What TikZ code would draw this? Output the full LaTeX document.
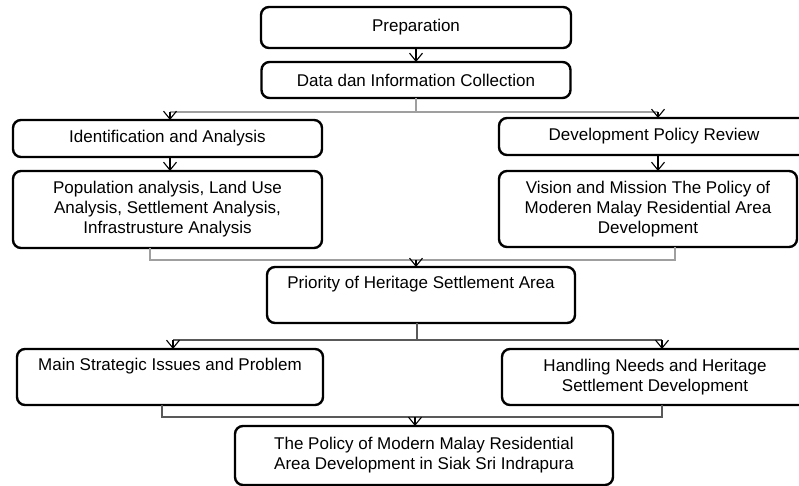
\documentclass[tikz,border=0pt]{standalone}
\usepackage{fontspec}
\setmainfont{Liberation Sans}
\usetikzlibrary{arrows.meta}
\begin{document}
\begin{tikzpicture}[x=1pt,y=-1pt,
 box/.style={draw=black, line width=2.4pt, rounded corners=8pt, inner sep=0pt, outer sep=0pt,
   align=center, font=\fontsize{17}{20}\selectfont, fill=white},
 conn/.style={draw=gray!75, line width=1.4pt},
 conndark/.style={draw=black!65, line width=1.2pt},
 arr/.style={draw=black, line width=1.1pt, -{Straight Barb[length=8pt,width=13pt]}}]
\useasboundingbox (0,0) rectangle (799,486);
\clip (0,0) rectangle (799,486);
% boxes
\node[box, minimum width=310pt, minimum height=41pt] (prep) at (416,27.5) {Preparation};
\node[box, minimum width=309pt, minimum height=36pt] (data) at (416,80) {Data dan Information Collection};
\node[box, minimum width=309pt, minimum height=37pt] (ident) at (167.5,138.5) {Identification and Analysis};
\node[box, minimum width=309pt, minimum height=77pt] (pop) at (167.5,209.5) {Population analysis, Land Use\\Analysis, Settlement Analysis,\\Infrastrusture Analysis};
\node[box, minimum width=310pt, minimum height=37pt] (dev) at (654,136.5) {Development Policy Review};
\node[box, minimum width=298pt, minimum height=76pt] (vis) at (648,209) {Vision and Mission The Policy of\\Moderen Malay Residential Area\\Development};
\node[box, minimum width=308pt, minimum height=56pt] (prio) at (421,295) {Priority of Heritage Settlement Area\\\strut};
\node[box, minimum width=306pt, minimum height=56pt] (main) at (170,377) {Main Strategic Issues and Problem\\\strut};
\node[box, minimum width=306pt, minimum height=56pt] (hand) at (655,377) {Handling Needs and Heritage\\Settlement Development};
\node[box, minimum width=378pt, minimum height=59pt] (final) at (424,455.5) {The Policy of Modern Malay Residential\\Area Development in Siak Sri Indrapura};
% junction coordinates
\coordinate (a1) at (170,112);
\coordinate (a2) at (658,112);
\coordinate (b1) at (150,260);
\coordinate (b2) at (675,260);
\coordinate (bm) at (416,260);
\coordinate (c1) at (173,340);
\coordinate (c2) at (662,340);
\coordinate (d1) at (162,417);
\coordinate (d2) at (662,417);
\coordinate (dm) at (415,417);
% connectors
\draw[arr] (prep.south) -- (data.north);
\draw[conn] (data.south) -- (data.south |- a1);
\draw[conn] (a1) -- (a2);
\draw[arr] (a1) -- (ident.north -| a1);
\draw[arr] (a2) -- (dev.north -| a2);
\draw[arr] (ident.south -| a1) -- (pop.north -| a1);
\draw[arr] (dev.south -| a2) -- (vis.north -| a2);
\draw[conn] (pop.south -| b1) -- (b1) -- (b2) -- (vis.south -| b2);
\draw[arr] (bm) -- (prio.north -| bm);
\draw[conndark] (prio.south -| 417,0) -- (417,340);
\draw[conndark] (c1) -- (c2);
\draw[arr] (c1) -- (main.north -| c1);
\draw[arr] (c2) -- (hand.north -| c2);
\draw[conndark] (main.south -| d1) -- (d1) -- (d2) -- (hand.south -| d2);
\draw[arr] (dm) -- (final.north -| dm);
\end{tikzpicture}
\end{document}
